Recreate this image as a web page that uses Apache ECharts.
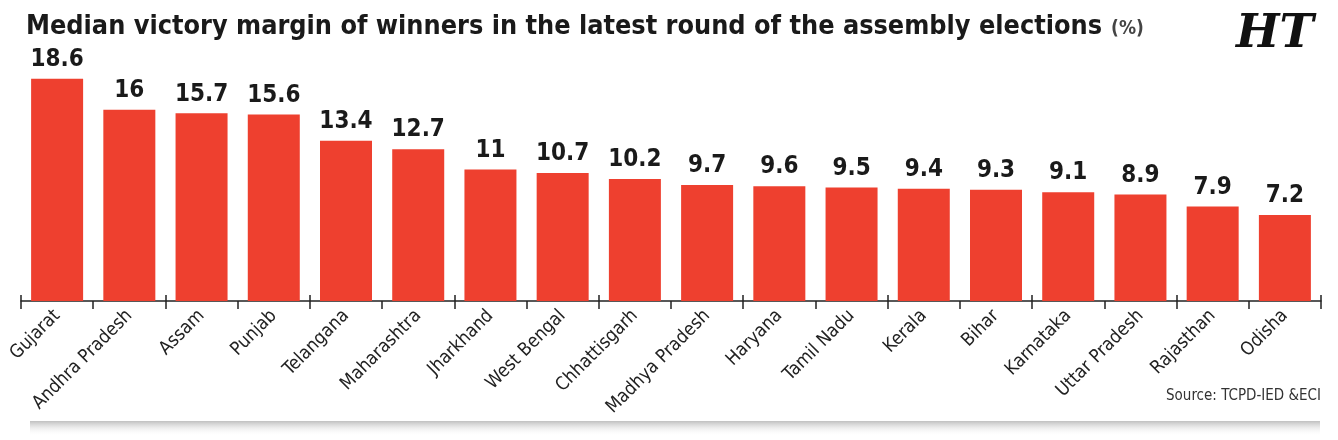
<!DOCTYPE html>
<html>
<head>
<meta charset="utf-8">
<script src="https://cdn.jsdelivr.net/npm/echarts@6/dist/echarts.min.js"></script>
<style>
  html, body { margin: 0; padding: 0; background: #fff; }
  #chart { width: 1338px; height: 440px; }
</style>
</head>
<body>
<div id="chart"></div>
<script>
// 数据
var states = [
  "Gujarat", "Andhra Pradesh", "Assam", "Punjab", "Telangana", "Maharashtra",
  "Jharkhand", "West Bengal", "Chhattisgarh", "Madhya Pradesh", "Haryana",
  "Tamil Nadu", "Kerala", "Bihar", "Karnataka", "Uttar Pradesh", "Rajasthan", "Odisha"
];
var margins = [18.6, 16, 15.7, 15.6, 13.4, 12.7, 11, 10.7, 10.2, 9.7, 9.6, 9.5, 9.4, 9.3, 9.1, 8.9, 7.9, 7.2];

var titleText = "Median victory margin of winners in the latest round of the assembly elections";
var sourceText = "Source: TCPD-IED &ECI";

var font = "'DejaVu Sans Condensed', sans-serif";

var machart = echarts.init(document.getElementById("chart"));

var option = {
  animation: false,
  backgroundColor: "#fff",
  title: {
    left: 21,
    top: 9,
    text: "{t|" + titleText + "} {p|(%)}",
    textStyle: {
      rich: {
        t: { fontFamily: font, fontWeight: "bold", fontSize: 26.8, color: "#1a1a1a" },
        p: { fontFamily: font, fontSize: 19, color: "#444", padding: [4, 0, 0, 4] },
      },
    },
  },
  grid: { left: 21, right: 17, top: 38, bottom: 139 },
  xAxis: [
    {
      type: "category",
      data: states,
      axisLine: { lineStyle: { color: "#222", width: 1.5 } },
      axisTick: { show: true, length: 8, lineStyle: { color: "#222", width: 1.5 } },
      axisLabel: {
        rotate: 45,
        interval: 0,
        margin: 12,
        fontFamily: font,
        fontSize: 18.5,
        color: "#222",
      },
    },
    {
      type: "category",
      data: states,
      position: "bottom",
      axisLine: { show: false },
      axisTick: { show: true, inside: true, length: 6, lineStyle: { color: "#222", width: 1.5 } },
      axisLabel: { show: false },
    },
  ],
  yAxis: {
    type: "value",
    min: 0,
    max: 22,
    show: false,
  },
  series: [
    {
      type: "bar",
      data: margins,
      barWidth: 52,
      itemStyle: { color: "#ee402f" },
      label: {
        show: true,
        position: "top",
        distance: 7,
        fontFamily: font,
        fontWeight: "bold",
        fontSize: 24,
        color: "#1a1a1a",
      },
    },
  ],
  graphic: [
    {
      type: "text",
      right: 17,
      top: 389,
      style: { text: sourceText, font: "15px " + font, fill: "#333" },
    },
    {
      type: "text",
      left: 1236,
      top: 12,
      style: {
        text: "HT",
        font: "italic bold 46px 'DejaVu Serif', serif",
        fill: "#111",
      },
    },
    {
      type: "rect",
      shape: { x: 30, y: 421, width: 1290, height: 15 },
      style: {
        fill: new echarts.graphic.LinearGradient(0, 0, 0, 1, [
          { offset: 0, color: "rgba(185,185,185,0.9)" },
          { offset: 1, color: "rgba(255,255,255,0)" },
        ]),
      },
      z: -1,
    },
  ],
};
machart.setOption(option);
</script>
</body>
</html>
